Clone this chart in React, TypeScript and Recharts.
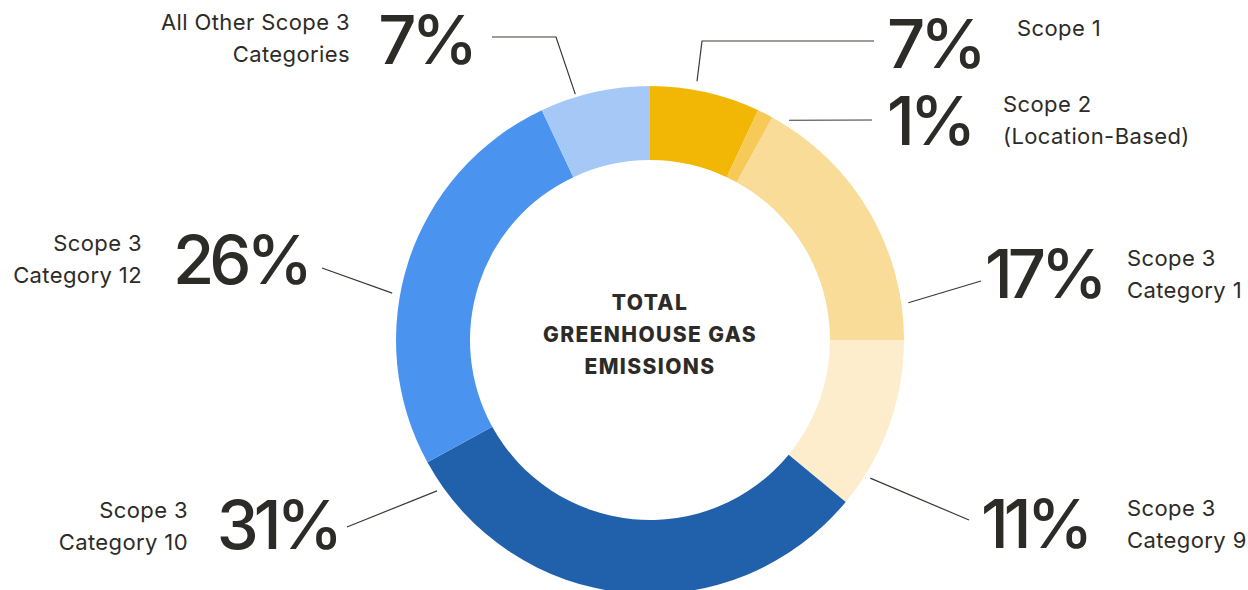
import { PieChart, Pie, Cell } from 'recharts'

const categories = [
  'Scope 1',
  'Scope 2 (Location-Based)',
  'Scope 3 Category 1',
  'Scope 3 Category 9',
  'Scope 3 Category 10',
  'Scope 3 Category 12',
  'All Other Scope 3 Categories',
]
const labelLines = [
  ['Scope 1'],
  ['Scope 2', '(Location-Based)'],
  ['Scope 3', 'Category 1'],
  ['Scope 3', 'Category 9'],
  ['Scope 3', 'Category 10'],
  ['Scope 3', 'Category 12'],
  ['All Other Scope 3', 'Categories'],
]
const shares = [7, 1, 17, 11, 31, 26, 7]
const colors = ['#F2B705', '#F7C956', '#F8DC98', '#FDEDCD', '#2160AB', '#4A94F0', '#A6C8F7']
const centerTitle = ['TOTAL', 'GREENHOUSE GAS', 'EMISSIONS']

const data = categories.map((name, i) => ({ name, value: shares[i] }))

const INK = '#2d2b27'
const RAD = Math.PI / 180

// where each callout sits (angle the leader leaves the ring, then text spots)
type Callout = {
  angle: number
  gap: number
  elbow?: [number, number]
  end: [number, number]
  pct: [number, number]
  side: 'left' | 'right'
  text: [number, number]
}
const callouts: Callout[] = [
  { angle: 79.7, gap: 9, elbow: [702, 41], end: [874, 41], pct: [887, 68], side: 'right', text: [1017, 36] },
  { angle: 57.7, gap: 6, end: [872, 120], pct: [887, 145], side: 'right', text: [1003, 112] },
  { angle: 8.2, gap: 7, end: [981, 281], pct: [985, 298], side: 'right', text: [1127, 266] },
  { angle: -32.1, gap: 6, end: [969, 520], pct: [981, 548], side: 'right', text: [1127, 516] },
  { angle: -144.7, gap: 7, end: [347, 527], pct: [338, 549], side: 'left', text: [188, 518] },
  { angle: 169.7, gap: 8, end: [322, 268], pct: [308, 284], side: 'left', text: [142, 251] },
  { angle: 106.9, gap: 3, elbow: [556, 37], end: [492, 37], pct: [473, 64], side: 'left', text: [350, 30] },
]

const renderCallout = (props: any) => {
  const { cx, cy, outerRadius, index, value } = props
  const c = callouts[index]
  const r = outerRadius + c.gap
  const sx = cx + r * Math.cos(-c.angle * RAD)
  const sy = cy + r * Math.sin(-c.angle * RAD)
  const pts = [[sx, sy], ...(c.elbow ? [c.elbow] : []), c.end]
  const anchor = c.side === 'right' ? 'start' : 'end'
  return (
    <g key={`callout-${index}`}>
      <polyline
        points={pts.map((p) => p.join(',')).join(' ')}
        fill="none"
        stroke="#3a3833"
        strokeWidth={1.2}
      />
      <text
        x={c.pct[0]}
        y={c.pct[1]}
        textAnchor={anchor}
        fill={INK}
        fontSize={67}
        fontWeight={500}
        letterSpacing={-5}
        fontFamily="Inter, sans-serif"
      >
        {value}%
      </text>
      {labelLines[index].map((line, j) => (
        <text
          key={j}
          x={c.text[0]}
          y={c.text[1] + j * 32}
          textAnchor={anchor}
          fill={INK}
          fontSize={22}
          letterSpacing={0.4}
          fontFamily="Inter, sans-serif"
        >
          {line}
        </text>
      ))}
    </g>
  )
}

export default function App() {
  return (
    <div style={{ position: 'absolute', left: 0, top: 0, width: 1248, height: 590, background: '#fff' }}>
      <PieChart width={1248} height={590} margin={{ top: 0, right: 0, bottom: 0, left: 0 }}>
        <Pie
          data={data}
          dataKey="value"
          nameKey="name"
          cx={650}
          cy={340}
          innerRadius={180}
          outerRadius={254}
          startAngle={90}
          endAngle={-270}
          stroke="none"
          label={renderCallout}
          labelLine={false}
          isAnimationActive={false}
        >
          {data.map((d, i) => (
            <Cell key={d.name} fill={colors[i]} />
          ))}
        </Pie>
        {centerTitle.map((line, i) => (
          <text
            key={line}
            x={650}
            y={310 + i * 32}
            textAnchor="middle"
            fill={INK}
            fontSize={21}
            fontWeight={800}
            letterSpacing={1.4}
            fontFamily="Inter, sans-serif"
          >
            {line}
          </text>
        ))}
      </PieChart>
    </div>
  )
}
